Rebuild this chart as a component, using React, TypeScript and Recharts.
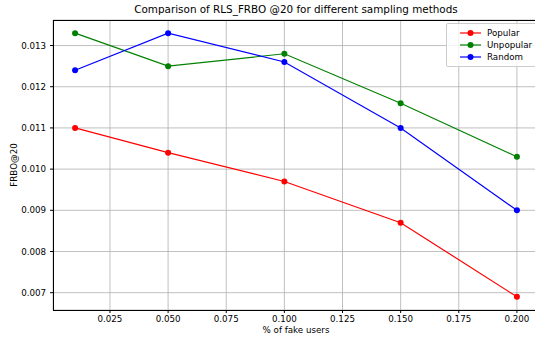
import { LineChart, Line, XAxis, YAxis, CartesianGrid } from "recharts";

const fakeShare = [0.01, 0.05, 0.1, 0.15, 0.2];
const popular = [0.011, 0.0104, 0.0097, 0.0087, 0.0069];
const unpopular = [0.0133, 0.0125, 0.0128, 0.0116, 0.0103];
const random = [0.0124, 0.0133, 0.0126, 0.011, 0.009];

const xTicks = [0.025, 0.05, 0.075, 0.1, 0.125, 0.15, 0.175, 0.2];
const yTicks = [0.007, 0.008, 0.009, 0.01, 0.011, 0.012, 0.013];

const data = fakeShare.map((x, i) => ({
  x,
  Popular: popular[i],
  Unpopular: unpopular[i],
  Random: random[i],
}));

const series = [
  { key: "Popular", color: "#ff0000" },
  { key: "Unpopular", color: "#008000" },
  { key: "Random", color: "#0000ff" },
];

const font = "'DejaVu Sans', sans-serif";
const tickStyle = { fontSize: 8.7, fill: "#000", fontFamily: font };

export default function App() {
  return (
    <div
      style={{
        position: "absolute",
        left: 0,
        top: 0,
        width: 535,
        height: 338,
        overflow: "hidden",
        background: "white",
        fontFamily: font,
      }}
    >
      <div
        style={{
          position: "absolute",
          top: 3,
          left: 53,
          width: 486,
          textAlign: "center",
          fontSize: 10.4,
          color: "#000",
        }}
      >
        Comparison of RLS_FRBO @20 for different sampling methods
      </div>
      <LineChart
        width={541}
        height={338}
        data={data}
        margin={{ top: 20, right: 2, left: 0, bottom: 0 }}
      >
        <CartesianGrid stroke="#b0b0b0" strokeWidth={0.8} />
        <XAxis
          dataKey="x"
          type="number"
          domain={[0.0005, 0.2095]}
          ticks={xTicks}
          allowDataOverflow
          height={28}
          axisLine={false}
          tickSize={3}
          tickMargin={3}
          tickLine={{ stroke: "#000" }}
          tick={tickStyle}
          tickFormatter={(v: number) => v.toFixed(3)}
        />
        <YAxis
          type="number"
          domain={[0.00658, 0.01362]}
          ticks={yTicks}
          allowDataOverflow
          width={53}
          axisLine={false}
          tickSize={3}
          tickMargin={4}
          tickLine={{ stroke: "#000" }}
          tick={tickStyle}
          tickFormatter={(v: number) => v.toFixed(3)}
        />
        {series.map((s) => (
          <Line
            key={s.key}
            dataKey={s.key}
            stroke={s.color}
            strokeWidth={1.2}
            dot={{ r: 3, fill: s.color, stroke: s.color, strokeWidth: 0 }}
            activeDot={false}
            isAnimationActive={false}
          />
        ))}
      </LineChart>
      <div
        style={{
          position: "absolute",
          left: 53,
          top: 20,
          width: 487,
          height: 291,
          boxSizing: "border-box",
          border: "1px solid #000",
          pointerEvents: "none",
        }}
      />
      <div
        style={{
          position: "absolute",
          left: 14,
          top: 165,
          transform: "translate(-50%, -50%) rotate(-90deg)",
          fontSize: 8.7,
          whiteSpace: "nowrap",
        }}
      >
        FRBO@20
      </div>
      <div
        style={{
          position: "absolute",
          left: 53,
          width: 486,
          top: 325,
          textAlign: "center",
          fontSize: 8.7,
        }}
      >
        % of fake users
      </div>
      <div
        style={{
          position: "absolute",
          left: 446,
          top: 23,
          width: 92,
          padding: "3px 0",
          background: "rgba(255,255,255,0.8)",
          border: "1px solid #cccccc",
          borderRadius: 2,
          fontSize: 8.7,
        }}
      >
        {series.map((s) => (
          <div
            key={s.key}
            style={{ display: "flex", alignItems: "center", height: 12 }}
          >
            <svg width={40} height={12} style={{ flexShrink: 0 }}>
              <line x1={13} x2={34} y1={6} y2={6} stroke={s.color} strokeWidth={1.2} />
              <circle cx={23.5} cy={6} r={3} fill={s.color} />
            </svg>
            <span>{s.key}</span>
          </div>
        ))}
      </div>
    </div>
  );
}
